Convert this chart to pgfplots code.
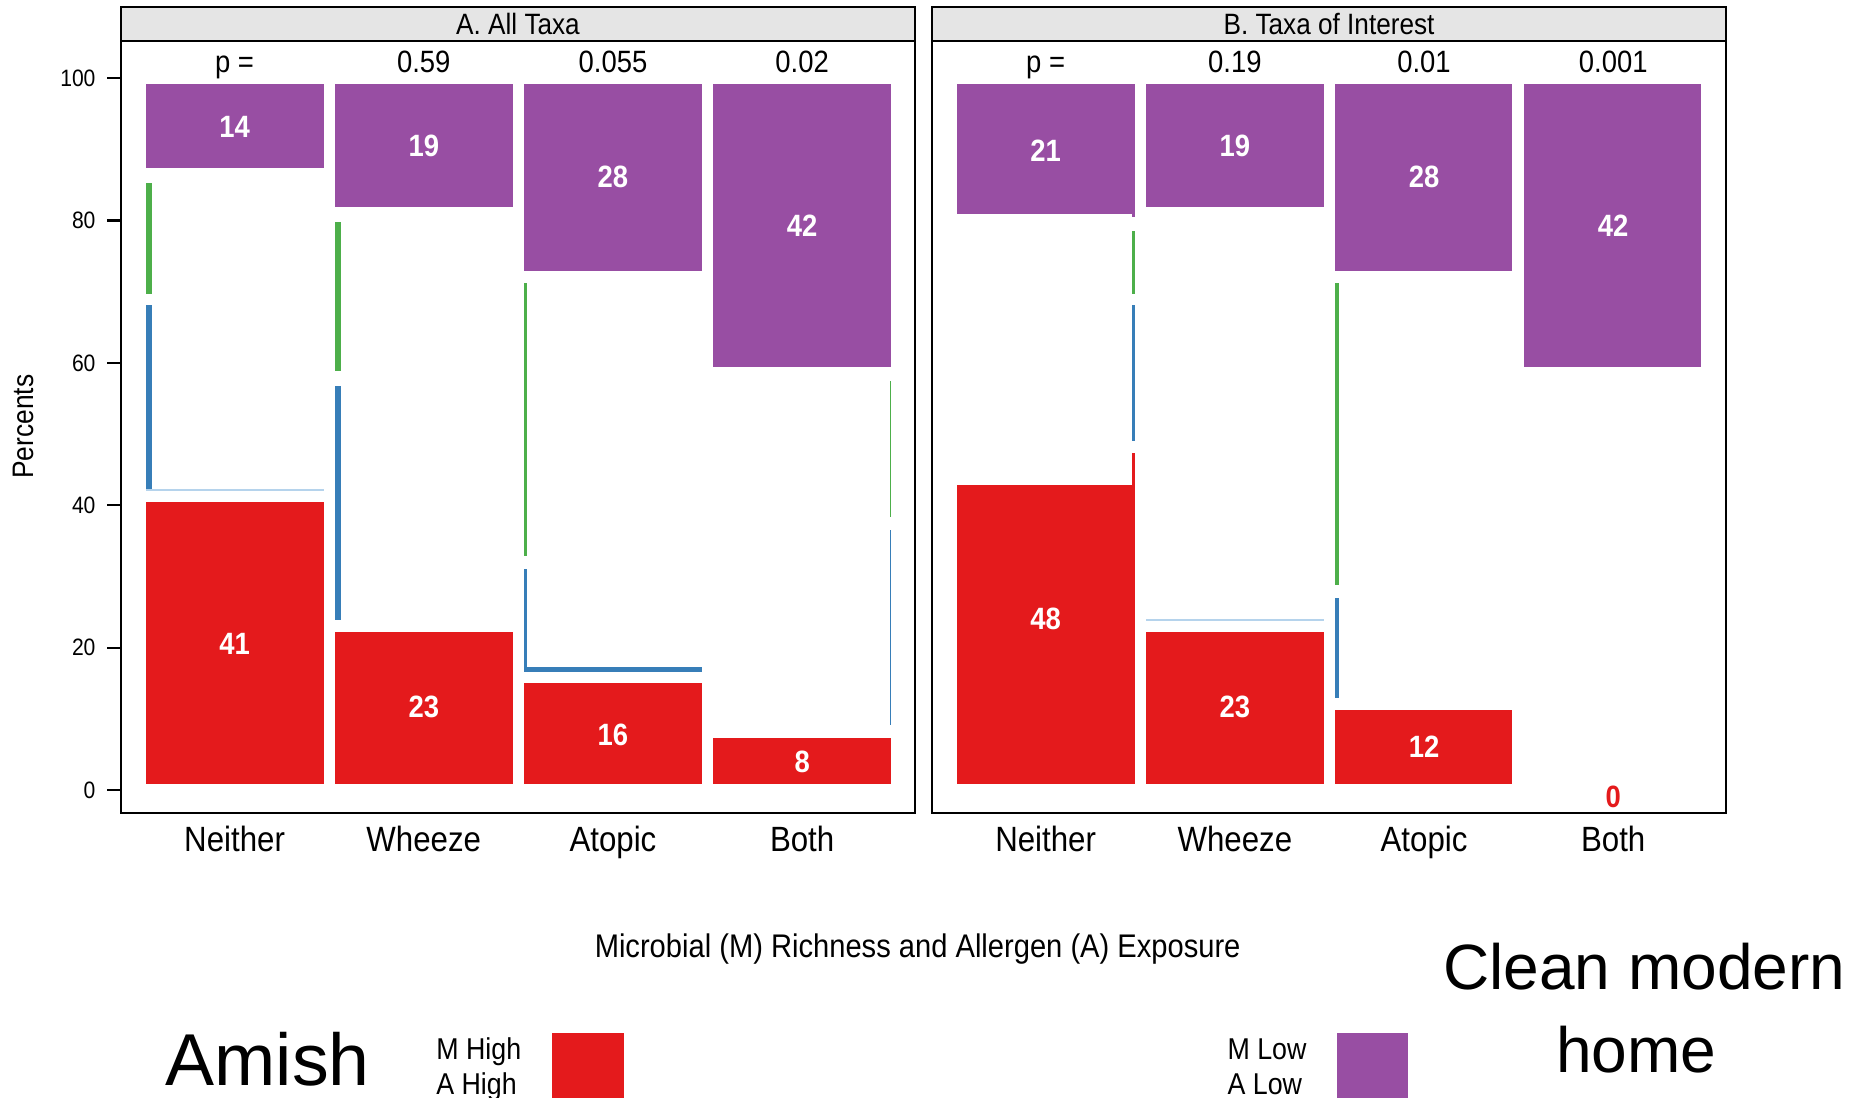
\documentclass[border=0pt]{standalone}
\usepackage{pgfplots}
\pgfplotsset{compat=1.18}
\usepackage{fontspec}
\setmainfont{Liberation Sans}
\newfontfamily\cf[FakeStretch=0.89]{Liberation Sans}
\definecolor{mred}{HTML}{E41A1C}
\definecolor{mpurple}{HTML}{984EA3}
\definecolor{mblue}{HTML}{377EB8}
\definecolor{mgreen}{HTML}{4DAF4A}
\definecolor{mlight}{HTML}{B5D3EC}
\definecolor{stripgray}{HTML}{E5E5E5}
\newcommand{\rect}[5]{\addplot[fill=#5, draw=none, forget plot] coordinates {(#1,#3) (#2,#3) (#2,#4) (#1,#4)} -- cycle;}
\pgfplotsset{panel/.style={
  scale only axis, width=335.1pt, height=325.7pt,
  xmin=-0.602, xmax=3.598, ymin=-3.24, ymax=105.2,
  xtick={0,1,2,3}, xticklabels={Neither,Wheeze,Atopic,Both},
  xtick style={draw=none},
  tick align=outside, major tick length=5.6pt,
  axis line style={line width=0.9pt},
  clip=false,
  xticklabel style={font=\cf\fontsize{14.8}{17}\selectfont, anchor=base, yshift=-10.5pt},
},
numlab/.style={draw=none, mark=none, forget plot, nodes near coords, point meta=explicit symbolic,
  every node near coord/.append style={anchor=center, inner sep=0pt, font=\cf\bfseries\fontsize{13}{15}\selectfont, text=white}},
plab/.style={draw=none, mark=none, forget plot, nodes near coords, point meta=explicit symbolic,
  every node near coord/.append style={anchor=base, inner sep=0pt, font=\cf\fontsize{13}{15}\selectfont, text=black}},
}
\begin{document}
\begin{tikzpicture}
\useasboundingbox (0,0) rectangle (784pt,463pt);
% ---------------- Panel A ----------------
\begin{axis}[panel, at={(50.9pt,120pt)}, anchor=south west,
  ytick={0,20,40,60,80,100}, ytick pos=left,
  ytick style={line width=0.9pt, black},
  yticklabel style={font=\cf\fontsize{10}{12}\selectfont, /pgf/number format/assume math mode=true, xshift=-1.5pt}]
\rect{-0.47}{0.47}{87.4}{99.1}{mpurple}
\rect{-0.47}{-0.439}{69.7}{85.3}{mgreen}
\rect{-0.47}{-0.439}{42.2}{68.1}{mblue}
\rect{-0.47}{0.47}{41.95}{42.25}{mlight}
\rect{-0.47}{0.47}{0.83}{40.5}{mred}
\rect{0.53}{1.47}{81.85}{99.1}{mpurple}
\rect{0.53}{0.561}{58.8}{79.8}{mgreen}
\rect{0.53}{0.561}{23.9}{56.7}{mblue}
\rect{0.53}{1.47}{0.83}{22.25}{mred}
\rect{1.53}{2.47}{72.9}{99.1}{mpurple}
\rect{1.53}{1.546}{32.9}{71.2}{mgreen}
\rect{1.53}{1.546}{17.3}{31.1}{mblue}
\rect{1.53}{2.47}{16.6}{17.3}{mblue}
\rect{1.53}{2.47}{0.83}{15.0}{mred}
\rect{2.53}{3.47}{59.4}{99.1}{mpurple}
\rect{3.462}{3.47}{38.4}{57.4}{mgreen}
\rect{3.462}{3.47}{9.15}{36.5}{mblue}
\rect{2.53}{3.47}{0.83}{7.37}{mred}
\addplot[numlab] coordinates {(0,93.2)[14] (1,90.5)[19] (2,86.1)[28] (3,79.2)[42]};
\addplot[numlab] coordinates {(0,20.6)[41] (1,11.7)[23] (2,7.8)[16] (3,4.0)[8]};
\addplot[plab] coordinates {(0,100.8)[p =] (1,100.8)[0.59] (2,100.8)[0.055] (3,100.8)[0.02]};
\draw[fill=stripgray, line width=0.9pt] (rel axis cs:0,1) rectangle (rel axis cs:1,1.0436);
\node[font=\cf\fontsize{12.4}{14}\selectfont, inner sep=0pt] at (rel axis cs:0.5,1.0218) {A. All Taxa};
\end{axis}
% ---------------- Panel B ----------------
\begin{axis}[panel, at={(392.95pt,120pt)}, anchor=south west, ytick=\empty]
\rect{-0.47}{0.47}{80.9}{99.1}{mpurple}
\rect{0.455}{0.47}{80.5}{80.9}{mpurple}
\rect{0.455}{0.47}{69.7}{78.5}{mgreen}
\rect{0.455}{0.47}{49.1}{68.1}{mblue}
\rect{0.455}{0.47}{42.8}{47.4}{mred}
\rect{-0.47}{0.47}{0.83}{42.8}{mred}
\rect{0.53}{1.47}{81.85}{99.1}{mpurple}
\rect{0.53}{1.47}{23.75}{24.05}{mlight}
\rect{0.53}{1.47}{0.83}{22.25}{mred}
\rect{1.53}{2.465}{72.9}{99.1}{mpurple}
\rect{1.53}{1.55}{28.8}{71.2}{mgreen}
\rect{1.53}{1.55}{12.9}{27.0}{mblue}
\rect{1.53}{2.465}{0.83}{11.2}{mred}
\rect{2.53}{3.465}{59.4}{99.1}{mpurple}
\addplot[numlab] coordinates {(0,89.85)[21] (1,90.5)[19] (2,86.1)[28] (3,79.2)[42]};
\addplot[numlab] coordinates {(0,24.1)[48] (1,11.7)[23] (2,6.1)[12]};
\addplot[numlab, every node near coord/.append style={text=mred}] coordinates {(3,-0.9)[0]};
\addplot[plab] coordinates {(0,100.8)[p =] (1,100.8)[0.19] (2,100.8)[0.01] (3,100.8)[0.001]};
\draw[fill=stripgray, line width=0.9pt] (rel axis cs:0,1) rectangle (rel axis cs:1,1.0436);
\node[font=\cf\fontsize{12.4}{14}\selectfont, inner sep=0pt] at (rel axis cs:0.5,1.0218) {B. Taxa of Interest};
\end{axis}
% ---------------- outside texts ----------------
\node[rotate=90, font=\cf\fontsize{12.5}{14}\selectfont, inner sep=0pt] at (9.85pt,283pt) {Percents};
\node[font=\cf\fontsize{13.8}{16}\selectfont, anchor=base, inner sep=0pt] at (387pt,59.2pt) {Microbial (M) Richness and Allergen (A) Exposure};
\node[font=\fontsize{31}{36}\selectfont, anchor=base west, inner sep=0pt] at (69.6pt,5pt) {Amish};
\node[font=\cf\fontsize{12.7}{14}\selectfont, anchor=base west, inner sep=0pt] at (183.8pt,16pt) {M High};
\node[font=\cf\fontsize{12.7}{14}\selectfont, anchor=base west, inner sep=0pt] at (183.8pt,1.6pt) {A High};
\fill[mred] (232.6pt,0pt) rectangle (263.2pt,27.5pt);
\node[font=\cf\fontsize{12.7}{14}\selectfont, anchor=base west, inner sep=0pt] at (517.5pt,16pt) {M Low};
\node[font=\cf\fontsize{12.7}{14}\selectfont, anchor=base west, inner sep=0pt] at (517.5pt,1.6pt) {A Low};
\fill[mpurple] (564pt,0pt) rectangle (594pt,27.5pt);
\node[font=\fontsize{27}{32}\selectfont, anchor=base, inner sep=0pt] at (693.5pt,45.5pt) {Clean modern};
\node[font=\fontsize{27}{32}\selectfont, anchor=base, inner sep=0pt] at (690pt,10.5pt) {home};
\end{tikzpicture}
\end{document}
